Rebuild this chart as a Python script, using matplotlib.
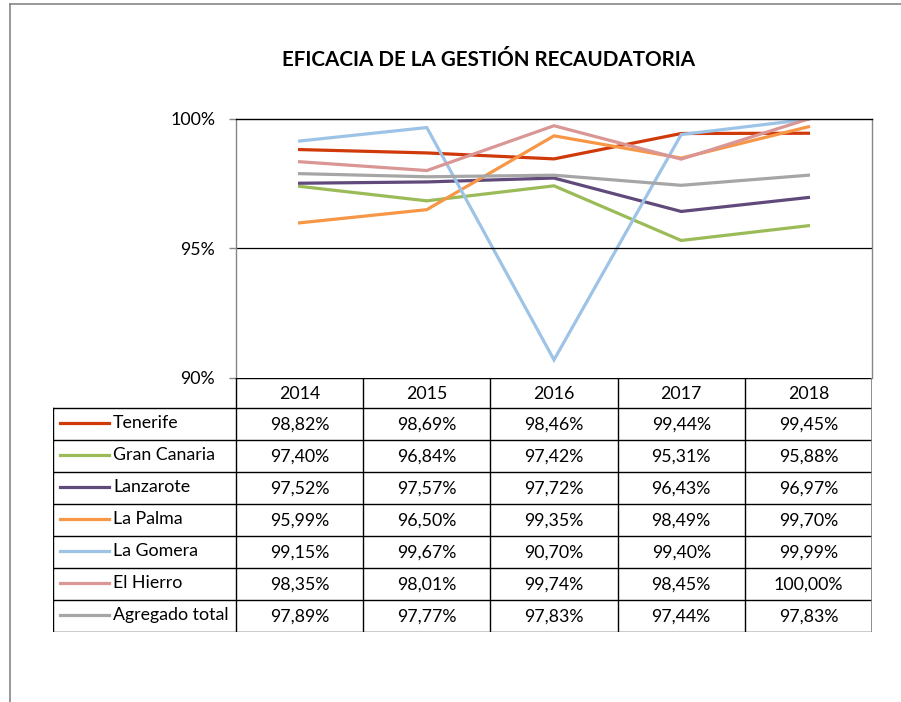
import matplotlib.pyplot as plt
import numpy as np

plt.rcParams['font.family'] = ['Lato', 'DejaVu Sans']

years = ["2014", "2015", "2016", "2017", "2018"]
islands = ["Tenerife", "Gran Canaria", "Lanzarote", "La Palma", "La Gomera", "El Hierro", "Agregado total"]

tenerife = [98.82, 98.69, 98.46, 99.44, 99.45]
gran_canaria = [97.40, 96.84, 97.42, 95.31, 95.88]
lanzarote = [97.52, 97.57, 97.72, 96.43, 96.97]
la_palma = [95.99, 96.50, 99.35, 98.49, 99.70]
la_gomera = [99.15, 99.67, 90.70, 99.40, 99.99]
el_hierro = [98.35, 98.01, 99.74, 98.45, 100.00]
agregado = [97.89, 97.77, 97.83, 97.44, 97.83]

colors = ["#D03A0A", "#9BBB59", "#604A7B", "#F79646", "#9DC3E6", "#D99694", "#A6A6A6"]

W, H = 901, 702


def px_rect(x0, y0, x1, y1):
    # pixel box (top-left origin) -> figure fraction rect
    return [x0 / W, 1 - y1 / H, (x1 - x0) / W, (y1 - y0) / H]


def fmt(v):
    return ("%.2f%%" % v).replace(".", ",")


def main():
    series = [tenerife, gran_canaria, lanzarote, la_palma, la_gomera, el_hierro, agregado]
    fig = plt.figure(figsize=(W / 100, H / 100), dpi=100)

    # outer chart border
    fig.add_artist(plt.Line2D([10 / W, 10 / W], [0, 1 - 4 / H], color="#868686", lw=1.2))
    fig.add_artist(plt.Line2D([10 / W, 1], [1 - 4 / H, 1 - 4 / H], color="#868686", lw=1.2))

    fig.text(489 / W, 1 - 60 / H, "EFICACIA DE LA GESTIÓN RECAUDATORIA",
             ha="center", va="center", fontsize=14.9, fontweight="bold")

    ax = fig.add_axes(px_rect(236, 119, 872, 378))
    x = np.arange(len(years))
    for vals, c in zip(series, colors):
        ax.plot(x, vals, color=c, lw=2.3, solid_joinstyle="miter")
    ax.set_xlim(-0.5, len(years) - 0.5)
    ax.set_ylim(90, 100)
    ax.set_yticks([90, 95, 100])
    ax.set_yticklabels(["90%", "95%", "100%"])
    ax.set_xticks([])
    ax.tick_params(axis="y", length=5, width=1, color="#868686", labelsize=12.8, pad=10)
    ax.axhline(95, color="black", lw=0.9)
    ax.spines["left"].set_color("#868686")
    ax.spines["right"].set_color("#868686")
    ax.spines["top"].set_color("black")
    ax.spines["bottom"].set_visible(False)
    for s in ax.spines.values():
        s.set_linewidth(1.0)

    # data table below the plot
    col_w = (872 - 236) / len(years)
    lab_w = (236 - 53) / col_w
    tax = fig.add_axes(px_rect(53, 378, 872, 632))
    tax.set_xlim(-0.5 - lab_w, len(years) - 0.5)
    tax.set_ylim(632, 378)
    tax.axis("off")
    head_bot = 408
    row_h = 32
    lc = "black"
    tax.plot([-0.5, len(years) - 0.5], [378, 378], color=lc, lw=1.0)
    for i in range(len(series) + 1):
        y = head_bot + i * row_h
        tax.plot([-0.5 - lab_w, len(years) - 0.5], [y, y], color=lc, lw=1.0)
    bottom = head_bot + len(series) * row_h
    tax.plot([-0.5 - lab_w, -0.5 - lab_w], [head_bot, bottom], color=lc, lw=1.0)
    for j in range(len(years) + 1):
        tax.plot([j - 0.5, j - 0.5], [378, bottom], color=lc, lw=1.0)
    tax.plot([len(years) - 0.5] * 2, [378, bottom], color="#868686", lw=1.2)

    for j, yr in enumerate(years):
        tax.text(j, (378 + head_bot) / 2 + 1, yr, ha="center", va="center", fontsize=12.8)

    key_x0 = -0.5 - lab_w + 7 / col_w
    key_x1 = -0.5 - lab_w + 56 / col_w
    for i, (name, vals, c) in enumerate(zip(islands, series, colors)):
        yc = head_bot + i * row_h + row_h / 2
        tax.plot([key_x0, key_x1], [yc - 1, yc - 1], color=c, lw=2.3)
        tax.text(key_x1 + 4 / col_w, yc - 1, name, ha="left", va="center", fontsize=12.8)
        for j, v in enumerate(vals):
            tax.text(j, yc + 1, fmt(v), ha="center", va="center", fontsize=12.8)

    fig.savefig("out.png", dpi=100)


if __name__ == "__main__":
    main()
